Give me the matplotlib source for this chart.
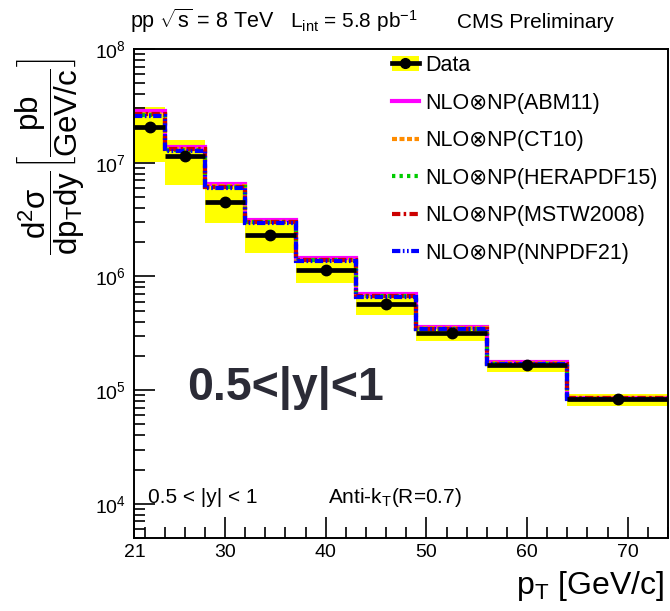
import numpy as np
import matplotlib
matplotlib.use("Agg")
import matplotlib.pyplot as plt
from matplotlib.lines import Line2D
from matplotlib.patches import Patch
from matplotlib.ticker import MultipleLocator, LogLocator, NullFormatter

plt.rcParams['font.family'] = ['Liberation Sans', 'DejaVu Sans']
plt.rcParams['mathtext.fontset'] = 'custom'
plt.rcParams['mathtext.rm'] = 'Liberation Sans'
plt.rcParams['mathtext.it'] = 'Liberation Sans'
plt.rcParams['mathtext.bf'] = 'Liberation Sans:bold'
plt.rcParams['mathtext.sf'] = 'Liberation Sans'

# pT bin edges [GeV/c]
bin_edges = [21, 24, 28, 32, 37, 43, 49, 56, 64, 74]

# measured cross section [pb/(GeV/c)] and systematic band
data_xs = [2.07e7, 1.135e7, 4.52e6, 2.29e6, 1.13e6, 5.68e5, 3.2e5, 1.66e5, 8.34e4]
syst_hi = [3.12e7, 1.59e7, 6.3e6, 3.1e6, 1.45e6, 6.8e5, 3.5e5, 1.75e5, 9.2e4]
syst_lo = [1.01e7, 6.33e6, 2.96e6, 1.61e6, 8.7e5, 4.58e5, 2.7e5, 1.45e5, 7.3e4]

# NLO x NP predictions
abm11 = [2.85e7, 1.38e7, 6.5e6, 3.15e6, 1.46e6, 7.0e5, 3.56e5, 1.75e5, 8.6e4]
ct10 = [2.7e7, 1.32e7, 6.2e6, 3.02e6, 1.40e6, 6.75e5, 3.48e5, 1.72e5, 8.45e4]
herapdf15 = [2.65e7, 1.3e7, 6.12e6, 2.99e6, 1.39e6, 6.7e5, 3.47e5, 1.71e5, 8.4e4]
mstw2008 = [2.7e7, 1.31e7, 6.15e6, 3.0e6, 1.39e6, 6.72e5, 3.47e5, 1.71e5, 8.45e4]
nnpdf21 = [2.55e7, 1.27e7, 6.0e6, 2.95e6, 1.37e6, 6.62e5, 3.43e5, 1.7e5, 8.4e4]

edges = np.array(bin_edges)
centers = 0.5 * (edges[1:] + edges[:-1])
halfw = 0.5 * np.diff(edges)

fig = plt.figure(figsize=(6.7, 6.11), dpi=100)
ax = fig.add_axes([0.2007, 0.1195, 0.7963, 0.8003])

# yellow systematic band
ax.stairs(syst_hi, edges, baseline=syst_lo, fill=True, color='#ffff00', zorder=1)

theory = [
    (abm11, '#ff00ff', '-', 'NLO⊗NP(ABM11)'),
    (ct10, '#ff8c00', (0, (1.2, 0.6)), 'NLO⊗NP(CT10)'),
    (herapdf15, '#00cc00', (0, (0.8, 1.0)), 'NLO⊗NP(HERAPDF15)'),
    (mstw2008, '#cc0000', (0, (2.0, 0.8, 0.6, 0.8)), 'NLO⊗NP(MSTW2008)'),
    (nnpdf21, '#0000ff', (0, (2.0, 0.6, 0.4, 0.6, 0.4, 0.6)), 'NLO⊗NP(NNPDF21)'),
]
handles = []
for vals, col, ls, lab in theory:
    ax.stairs(vals, edges, baseline=None, color=col, linestyle=ls, linewidth=3.0, zorder=2)
    handles.append(Line2D([], [], color=col, linestyle=ls, linewidth=3.0))

ax.errorbar(centers, data_xs, xerr=halfw, fmt='o', color='black', ms=7.5,
            elinewidth=3.4, capsize=0, zorder=3)

data_handle = (Patch(facecolor='#ffff00', edgecolor='none'),
               Line2D([], [], color='black', marker='o', ms=7, linewidth=3.4))

ax.set_yscale('log')
ax.set_xlim(21, 74)
ax.set_ylim(5e3, 1e8)
ax.set_xticks([21, 30, 40, 50, 60, 70])
ax.xaxis.set_minor_locator(MultipleLocator(2))
ax.yaxis.set_minor_locator(LogLocator(base=10, subs=np.arange(2, 10)))
ax.yaxis.set_minor_formatter(NullFormatter())
ax.tick_params(which='both', direction='in', top=False, right=False, labelsize=14)
ax.tick_params(which='major', length=15, width=1.2)
ax.tick_params(which='minor', length=8, width=1.2)
ax.tick_params(axis='x', pad=4)
ax.tick_params(axis='y', pad=6)
for s in ax.spines.values():
    s.set_linewidth(1.4)

labels = ['Data'] + [t[3] for t in theory]
fig.legend([data_handle] + handles, labels, loc='upper left',
           bbox_to_anchor=(392 / 670, 1 - 55 / 611), frameon=False,
           fontsize=15.5, handlelength=1.25, handletextpad=0.3,
           labelspacing=0.77, borderpad=0, borderaxespad=0)

# header texts
fig.text(130 / 670, 1 - 28 / 611, r'pp $\sqrt{\mathrm{s}}$ = 8 TeV', fontsize=15.5, va='baseline')
fig.text(290 / 670, 1 - 28 / 611, r'L$_\mathrm{int}$ = 5.8 pb$^\mathrm{-1}$', fontsize=15, va='baseline')
fig.text(457 / 670, 1 - 28 / 611, 'CMS Preliminary', fontsize=15, va='baseline')

# labels inside the frame
fig.text(148 / 670, 1 - 503 / 611, '0.5 < |y| < 1', fontsize=15, va='baseline')
fig.text(328 / 670, 1 - 503 / 611, r'Anti-k$_\mathrm{T}$(R=0.7)', fontsize=15, va='baseline')
fig.text(187 / 670, 1 - 400 / 611, '0.5<|y|<1', fontsize=33.5, fontweight='bold',
         color='#2b2b36', va='baseline')

# axis titles
fig.text(664 / 670, 1 - 594 / 611, r'p$_\mathrm{T}$ [GeV/c]', fontsize=23, ha='right', va='baseline')
fig.text(50 / 670, 1 - 156 / 611,
         r'$\dfrac{\mathrm{d^2}\sigma}{\mathrm{dp_T dy}}\left[\dfrac{\mathrm{pb}}{\mathrm{GeV/c}}\right]$',
         fontsize=22.5, rotation=90, ha='center', va='center')

fig.savefig('out.png', dpi=100)
